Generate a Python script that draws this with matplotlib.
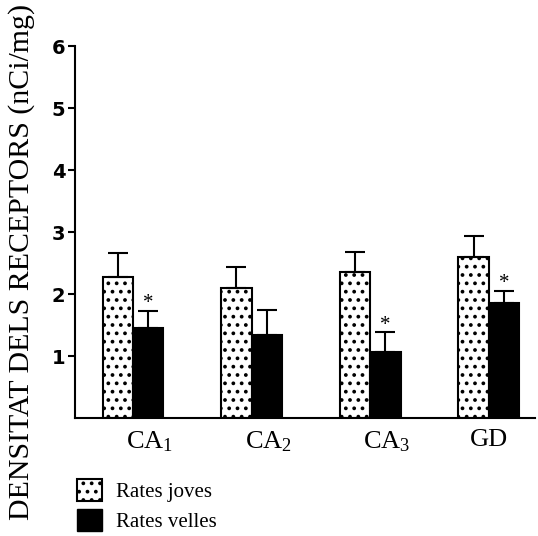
import numpy as np
import matplotlib.pyplot as plt
from matplotlib.patches import Patch

plt.rcParams['hatch.linewidth'] = 1.5
plt.rcParams['mathtext.fontset'] = 'custom'
plt.rcParams['mathtext.rm'] = 'Liberation Serif'
plt.rcParams['mathtext.it'] = 'Liberation Serif:italic'

# dades
regions = ['CA$_\\mathrm{1}$', 'CA$_\\mathrm{2}$', 'CA$_\\mathrm{3}$', 'GD']
joves = [2.28, 2.10, 2.35, 2.60]
joves_err = [0.38, 0.34, 0.33, 0.33]
velles = [1.46, 1.34, 1.07, 1.86]
velles_err = [0.27, 0.41, 0.31, 0.19]
signif = [True, False, True, True]
yticks = [1, 2, 3, 4, 5, 6]

serif = 'Liberation Serif'

fig = plt.figure(figsize=(5.38, 5.36), dpi=100)
ax = fig.add_axes([0.1394, 0.2201, 0.8546, 0.6939])

x = np.arange(len(regions))
w = 0.257

ax.bar(x - w / 2, joves, w, color='white', edgecolor='black', hatch='..', linewidth=1.5)
ax.bar(x + w / 2, velles, w, color='black', edgecolor='black', linewidth=1.5)

ax.errorbar(x - w / 2, joves, yerr=[np.zeros(len(x)), joves_err], fmt='none',
            ecolor='black', elinewidth=1.5, capsize=7.2, capthick=1.5)
ax.errorbar(x + w / 2, velles, yerr=[np.zeros(len(x)), velles_err], fmt='none',
            ecolor='black', elinewidth=1.5, capsize=7.2, capthick=1.5)

for i, s in enumerate(signif):
    if s:
        ax.text(x[i] + w / 2, velles[i] + velles_err[i] + 0.12, '*', ha='center', va='center',
                fontsize=15, family=serif)

ax.set_xlim(-0.489, 3.388)
ax.set_ylim(0, 6)
ax.set_yticks(yticks)
ax.set_yticklabels([str(t) for t in yticks], fontsize=14, fontweight='bold')
ax.set_xticks(x + np.array([0.14, 0.14, 0.14, 0.0]))
ax.set_xticklabels(regions, fontsize=19, family=serif)
ax.tick_params(axis='x', length=0, pad=8)
ax.tick_params(axis='y', length=5, width=1.5, direction='out', pad=2)
for sp in ['top', 'right']:
    ax.spines[sp].set_visible(False)
for sp in ['left', 'bottom']:
    ax.spines[sp].set_linewidth(1.5)

fig.text(22 / 538, 1 - 262 / 536, 'DENSITAT DELS RECEPTORS (nCi/mg)', rotation=90,
         ha='center', va='center', fontsize=21.5, family=serif)

handles = [Patch(facecolor='white', edgecolor='black', hatch='..', linewidth=1.5),
           Patch(facecolor='black', edgecolor='black')]
fig.legend(handles, ['Rates joves', 'Rates velles'], loc='upper left',
           bbox_to_anchor=(0.108, 0.142), frameon=False, prop={'family': serif, 'size': 15},
           handlelength=1.2, handleheight=1.25, handletextpad=0.7, labelspacing=0.35)

fig.savefig('out.png', dpi=100)
